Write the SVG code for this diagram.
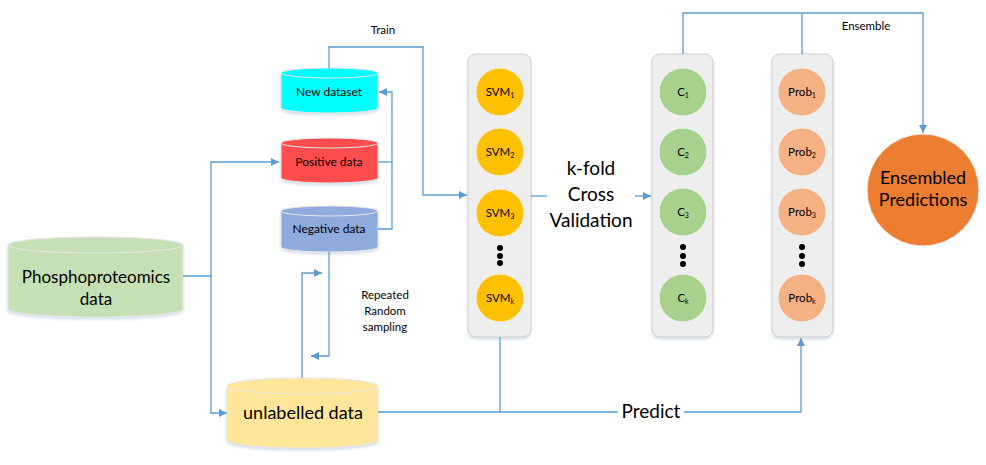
<svg xmlns="http://www.w3.org/2000/svg" width="986" height="465" viewBox="0 0 986 465">
<defs>
<marker id="arr" viewBox="0 0 10 10" refX="10" refY="5" markerWidth="8" markerHeight="8" markerUnits="userSpaceOnUse" orient="auto">
<path d="M0,0 L10,5 L0,10 Z" fill="#5B9BD5"/>
</marker>
<filter id="sh" x="-10%" y="-10%" width="120%" height="130%">
<feDropShadow dx="0" dy="2" stdDeviation="1.5" flood-color="#7f9fc0" flood-opacity="0.35"/>
</filter>
</defs>
<style>
text{font-family:Lato,"Liberation Sans",Arial,sans-serif;fill:#000;text-anchor:middle}
.cyl{stroke:#e6e6e6;stroke-width:1;filter:url(#sh)}
.cap{fill:none;stroke:#e8e8e8;stroke-width:1}
.panel{fill:#eeeeee;stroke:#cfcfcf;stroke-width:1;filter:url(#sh)}
.svm{fill:#FFC000;stroke:#f2f2f2;stroke-width:1}
.cc{fill:#A9D18E;stroke:#f2f2f2;stroke-width:1}
.pb{fill:#F4B183;stroke:#f2f2f2;stroke-width:1}
.dot{fill:#000}
.sm{font-size:11.5px}
.sub{font-size:7px}
.con{fill:none;stroke:#5B9BD5;stroke-width:1.3}
</style>

<g id="phospho">
<path class="cyl" fill="#C5E0B4" d="M8,245 A87.5,8 0 0 1 183,245 V309 A87.5,8 0 0 1 8,309 Z"/>
<path class="cap" d="M8,245 A87.5,8 0 0 0 183,245"/>
<text x="96" y="283" font-size="17">Phosphoproteomics</text>
<text x="96" y="305" font-size="17">data</text>
</g>

<g id="new-dataset">
<path class="cyl" fill="#00FFFF" d="M281,73 A48.5,5 0 0 1 378,73 V108 A48.5,5 0 0 1 281,108 Z"/>
<path class="cap" d="M281,73 A48.5,5 0 0 0 378,73"/>
<text x="329" y="96" font-size="12">New dataset</text>
</g>

<g id="positive">
<path class="cyl" fill="#FF4D4D" d="M281,143 A48.5,5 0 0 1 378,143 V178 A48.5,5 0 0 1 281,178 Z"/>
<path class="cap" d="M281,143 A48.5,5 0 0 0 378,143"/>
<text x="329" y="166" font-size="12">Positive data</text>
</g>

<g id="negative">
<path class="cyl" fill="#8FAADC" d="M281,211 A48.5,5 0 0 1 378,211 V247 A48.5,5 0 0 1 281,247 Z"/>
<path class="cap" d="M281,211 A48.5,5 0 0 0 378,211"/>
<text x="329" y="233" font-size="12">Negative data</text>
</g>

<g id="unlabelled">
<path class="cyl" fill="#FFE699" d="M227,386 A75.5,8 0 0 1 378,386 V440 A75.5,8 0 0 1 227,440 Z"/>
<path class="cap" d="M227,386 A75.5,8 0 0 0 378,386"/>
<text x="303" y="419" font-size="18">unlabelled data</text>
</g>

<g id="svm-panel">
<rect class="panel" x="468" y="54" width="63" height="283" rx="8"/>
<circle class="svm" cx="500" cy="92" r="24"/>
<text class="sm" x="500" y="96">SVM<tspan class="sub" dy="2">1</tspan></text>
<circle class="svm" cx="500" cy="152" r="24"/>
<text class="sm" x="500" y="156">SVM<tspan class="sub" dy="2">2</tspan></text>
<circle class="svm" cx="500" cy="213" r="24"/>
<text class="sm" x="500" y="217">SVM<tspan class="sub" dy="2">3</tspan></text>
<circle class="dot" cx="500" cy="248" r="3"/>
<circle class="dot" cx="500" cy="256" r="3"/>
<circle class="dot" cx="500" cy="263" r="3"/>
<circle class="svm" cx="500" cy="298" r="24"/>
<text class="sm" x="500" y="302">SVM<tspan class="sub" dy="2">k</tspan></text>
</g>

<g id="c-panel">
<rect class="panel" x="652" y="54" width="61" height="283" rx="8"/>
<circle class="cc" cx="683" cy="92" r="24"/>
<text class="sm" x="683" y="96">C<tspan class="sub" dy="2">1</tspan></text>
<circle class="cc" cx="683" cy="152" r="24"/>
<text class="sm" x="683" y="156">C<tspan class="sub" dy="2">2</tspan></text>
<circle class="cc" cx="683" cy="212" r="24"/>
<text class="sm" x="683" y="216">C<tspan class="sub" dy="2">3</tspan></text>
<circle class="dot" cx="683" cy="247" r="3"/>
<circle class="dot" cx="683" cy="256" r="3"/>
<circle class="dot" cx="683" cy="264" r="3"/>
<circle class="cc" cx="683" cy="298" r="24"/>
<text class="sm" x="683" y="302">C<tspan class="sub" dy="2">k</tspan></text>
</g>

<g id="prob-panel">
<rect class="panel" x="772" y="54" width="61" height="283" rx="8"/>
<circle class="pb" cx="802" cy="92" r="24"/>
<text class="sm" x="802" y="96">Prob<tspan class="sub" dy="2">1</tspan></text>
<circle class="pb" cx="802" cy="152" r="24"/>
<text class="sm" x="802" y="156">Prob<tspan class="sub" dy="2">2</tspan></text>
<circle class="pb" cx="802" cy="212" r="24"/>
<text class="sm" x="802" y="216">Prob<tspan class="sub" dy="2">3</tspan></text>
<circle class="dot" cx="802" cy="247" r="3"/>
<circle class="dot" cx="802" cy="256" r="3"/>
<circle class="dot" cx="802" cy="264" r="3"/>
<circle class="pb" cx="802" cy="298" r="24"/>
<text class="sm" x="802" y="302">Prob<tspan class="sub" dy="2">k</tspan></text>
</g>

<g id="ensembled">
<circle cx="923" cy="190" r="56" fill="#ED7D31" stroke="#f0f0f0" stroke-width="1"/>
<text x="923" y="184" font-size="18">Ensembled</text>
<text x="923" y="206" font-size="18">Predictions</text>
</g>

<g id="connectors">
<path class="con" d="M183,276 H211 V162 H279" marker-end="url(#arr)"/>
<path class="con" d="M211,276 V413 H227" marker-end="url(#arr)"/>
<path class="con" d="M378,229 H392 V92 H379" marker-end="url(#arr)"/>
<path class="con" d="M378,162 H392"/>
<path class="con" d="M329,68 V47 H423 V195 H467" marker-end="url(#arr)"/>
<path class="con" d="M329,252 V356 H311" marker-end="url(#arr)"/>
<path class="con" d="M302,378 V273 H322" marker-end="url(#arr)"/>
<path class="con" d="M531,196 H547"/>
<path class="con" d="M635,196 H651" marker-end="url(#arr)"/>
<path class="con" d="M683,54 V13 H923 V133" marker-end="url(#arr)"/>
<path class="con" d="M802,54 V13"/>
<path class="con" d="M500,337 V412"/>
<path class="con" d="M378,412 H801 V338" marker-end="url(#arr)"/>
<rect x="618" y="402" width="66" height="20" fill="#fff"/>
<text x="651" y="418" font-size="19">Predict</text>
<text x="591" y="175" font-size="19">k-fold</text>
<text x="591" y="201" font-size="19">Cross</text>
<text x="591" y="227" font-size="19">Validation</text>
<text class="sm" x="383" y="34">Train</text>
<text class="sm" x="866" y="30">Ensemble</text>
<text class="sm" x="385" y="299">Repeated</text>
<text class="sm" x="385" y="315">Random</text>
<text class="sm" x="385" y="331">sampling</text>
</g>
</svg>
